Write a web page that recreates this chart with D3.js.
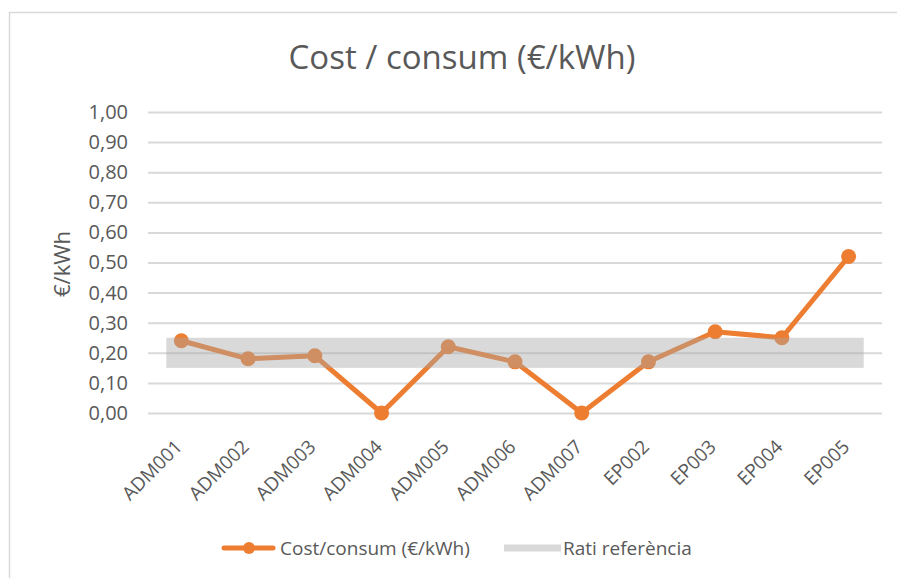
<!DOCTYPE html>
<html>
<head>
<meta charset="utf-8">
<script src="https://cdn.jsdelivr.net/npm/d3@7"></script>
<style>
  body { margin: 0; background: #fff; }
  svg { display: block; }
  svg text { font-family: 'Open Sans', 'Noto Sans', sans-serif; }
</style>
</head>
<body>
<svg id="chart" width="897" height="578"></svg>
<script>
const categories = ['ADM001', 'ADM002', 'ADM003', 'ADM004', 'ADM005', 'ADM006', 'ADM007', 'EP002', 'EP003', 'EP004', 'EP005'];
const costValues = [0.24, 0.18, 0.19, 0.00, 0.22, 0.17, 0.00, 0.17, 0.27, 0.25, 0.52];
const refLow = 0.15;
const refHigh = 0.25;
const yTicks = [0, 0.1, 0.2, 0.3, 0.4, 0.5, 0.6, 0.7, 0.8, 0.9, 1.0];

const title = 'Cost / consum (€/kWh)';
const yLabel = '€/kWh';
const seriesName = 'Cost/consum (€/kWh)';
const refName = 'Rati referència';

const orange = '#ED7D31';
const textColor = '#595959';

const margin = {top: 112, right: 15, bottom: 165, left: 148};
const fullWidth = 897;
const fullHeight = 578;
const width = fullWidth - margin.left - margin.right;
const height = fullHeight - margin.top - margin.bottom;

const fmt = d => d3.format('.2f')(d).replace('.', ',');

const svg = d3.select('#chart');

// chart frame
svg.append('rect')
    .attr('x', 9.5).attr('y', 12.5)
    .attr('width', 900).attr('height', 600)
    .attr('fill', '#fff')
    .attr('stroke', '#d9d9d9')
    .attr('stroke-width', 1.5);

svg.append('text')
    .attr('x', 462).attr('y', 69)
    .attr('text-anchor', 'middle')
    .attr('fill', textColor)
    .style('font-size', '33px')
    .text(title);

const g = svg.append('g')
    .attr('transform', `translate(${margin.left}, ${margin.top})`);

const xScale = d3.scaleBand()
    .domain(categories)
    .range([0, width]);

const yScale = d3.scaleLinear()
    .domain([0, 1])
    .range([height, 0]);

const yAxis = d3.axisLeft(yScale)
    .tickValues(yTicks)
    .tickSize(-width)
    .tickPadding(20)
    .tickFormat(fmt);

const gY = g.append('g').attr('class', 'axis axis--y').call(yAxis);
gY.select('.domain').remove();
gY.selectAll('.tick line').attr('stroke', '#d9d9d9').attr('stroke-width', 2);
gY.selectAll('.tick text')
    .attr('fill', textColor)
    .style('font-size', '20px');

const xAxis = d3.axisBottom(xScale).tickSize(0).tickPadding(0);
const gX = g.append('g').attr('class', 'axis axis--x')
    .attr('transform', `translate(0, ${height})`)
    .call(xAxis);
gX.select('.domain').remove();
gX.selectAll('.tick text')
    .attr('fill', textColor)
    .style('font-size', '19px')
    .attr('text-anchor', 'end')
    .attr('y', 0)
    .attr('dy', 0)
    .attr('transform', 'translate(2, 35) rotate(-45)');

svg.append('text')
    .attr('transform', `translate(70, 264) rotate(-90)`)
    .attr('text-anchor', 'middle')
    .attr('fill', textColor)
    .style('font-size', '22px')
    .text(yLabel);

const cx = d => xScale(d) + xScale.bandwidth() / 2;

const line = d3.line()
    .x((d, i) => cx(categories[i]))
    .y(d => yScale(d));

g.append('path')
    .datum(costValues)
    .attr('fill', 'none')
    .attr('stroke', orange)
    .attr('stroke-width', 5)
    .attr('stroke-linejoin', 'round')
    .attr('d', line);

g.selectAll('.dot').data(costValues)
    .enter().append('circle')
    .attr('class', 'dot')
    .attr('cx', (d, i) => cx(categories[i]))
    .attr('cy', d => yScale(d))
    .attr('r', 7.5)
    .attr('fill', orange);

// reference band drawn on top, semi-transparent
const bandPad = (yScale(refLow) - yScale(refHigh)) / 2;
g.append('rect')
    .attr('x', cx(categories[0]) - bandPad)
    .attr('y', yScale(refHigh))
    .attr('width', cx(categories[categories.length - 1]) - cx(categories[0]) + 2 * bandPad)
    .attr('height', yScale(refLow) - yScale(refHigh))
    .attr('fill', 'rgb(166,166,166)')
    .attr('fill-opacity', 0.43);

// legend
const legend = svg.append('g').attr('transform', 'translate(0, 548)');
legend.append('line')
    .attr('x1', 224).attr('x2', 273).attr('y1', 0).attr('y2', 0)
    .attr('stroke', orange).attr('stroke-width', 5).attr('stroke-linecap', 'round');
legend.append('circle').attr('cx', 249).attr('cy', 0).attr('r', 6).attr('fill', orange);
legend.append('text')
    .attr('x', 280).attr('y', 7)
    .attr('fill', textColor).style('font-size', '19px')
    .text(seriesName);
legend.append('line')
    .attr('x1', 504).attr('x2', 561).attr('y1', 0).attr('y2', 0)
    .attr('stroke', '#d9d9d9').attr('stroke-width', 7);
legend.append('text')
    .attr('x', 563).attr('y', 7)
    .attr('fill', textColor).style('font-size', '19px')
    .text(refName);
</script>
</body>
</html>
